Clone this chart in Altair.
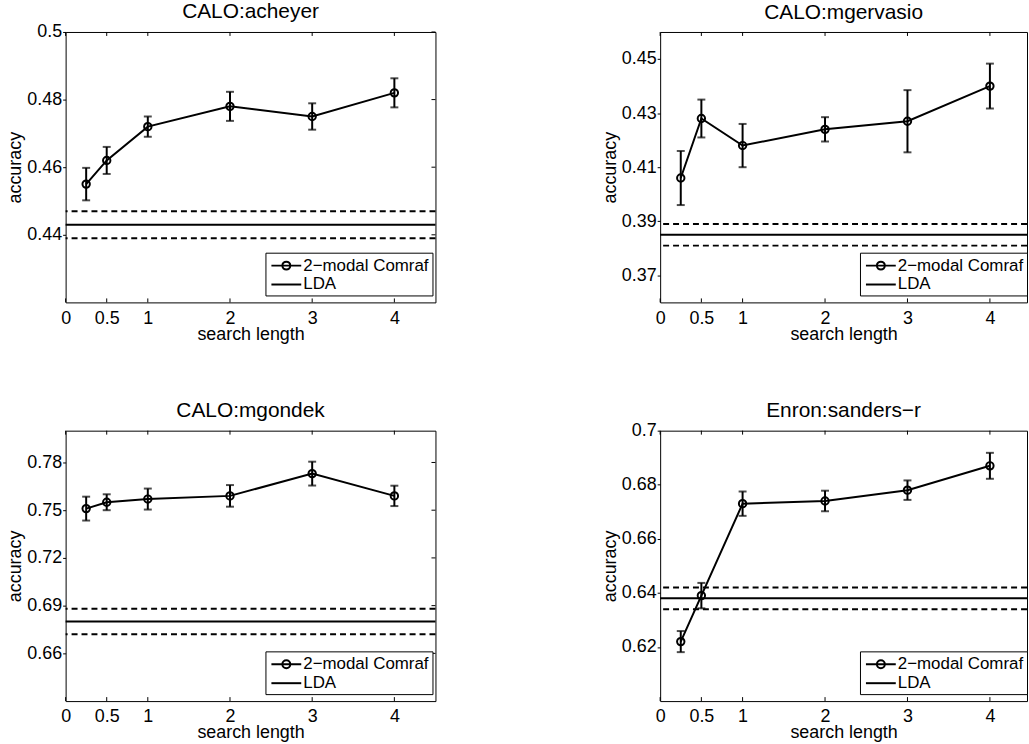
import altair as alt
import pandas as pd

FONT = "Liberation Sans"

# shared x positions / ticks
X_VALUES = [0.25, 0.5, 1, 2, 3, 4]
X_TICKS = [0, 0.5, 1, 2, 3, 4]
SERIES = ["2\u2212modal Comraf", "LDA"]

# panel 1
ACHEYER_TITLE = "CALO:acheyer"
ACHEYER_MEAN = [0.455, 0.462, 0.472, 0.478, 0.475, 0.482]
ACHEYER_ERR = [0.0048, 0.0040, 0.0030, 0.0043, 0.0039, 0.0043]
ACHEYER_LDA = 0.443
ACHEYER_LDA_STD = 0.004
ACHEYER_YDOMAIN = [0.42, 0.50]
ACHEYER_YTICKS = [0.44, 0.46, 0.48, 0.50]

# panel 2
MGERVASIO_TITLE = "CALO:mgervasio"
MGERVASIO_MEAN = [0.406, 0.428, 0.418, 0.424, 0.427, 0.440]
MGERVASIO_ERR = [0.0100, 0.0070, 0.0080, 0.0045, 0.0115, 0.0083]
MGERVASIO_LDA = 0.385
MGERVASIO_LDA_STD = 0.004
MGERVASIO_YDOMAIN = [0.36, 0.46]
MGERVASIO_YTICKS = [0.37, 0.39, 0.41, 0.43, 0.45]

# panel 3
MGONDEK_TITLE = "CALO:mgondek"
MGONDEK_MEAN = [0.751, 0.755, 0.757, 0.759, 0.773, 0.759]
MGONDEK_ERR = [0.0075, 0.0050, 0.0066, 0.0068, 0.0075, 0.0064]
MGONDEK_LDA = 0.680
MGONDEK_LDA_STD = 0.008
MGONDEK_YDOMAIN = [0.63, 0.80]
MGONDEK_YTICKS = [0.66, 0.69, 0.72, 0.75, 0.78]

# panel 4
SANDERS_TITLE = "Enron:sanders\u2212r"
SANDERS_MEAN = [0.622, 0.639, 0.673, 0.674, 0.678, 0.687]
SANDERS_ERR = [0.0039, 0.0047, 0.0045, 0.0038, 0.0036, 0.0048]
SANDERS_LDA = 0.638
SANDERS_LDA_STD = 0.004
SANDERS_YDOMAIN = [0.60, 0.70]
SANDERS_YTICKS = [0.62, 0.64, 0.66, 0.68, 0.70]

PATH_COMRAF = "M-1.667,0H1.667M0.444,0A0.444,0.444,0,1,1,-0.444,0A0.444,0.444,0,1,1,0.444,0"
PATH_LDA = "M-1.667,0H1.667"

PLOT_H = 272


def panel(title, mean, err, lda, lda_std, ydomain, yticks, width, xmax, right_ticks, legend_x):
    lo = [m - e for m, e in zip(mean, err)]
    hi = [m + e for m, e in zip(mean, err)]
    pts = pd.DataFrame({"x": X_VALUES, "y": mean, "lo": lo, "hi": hi})
    caps = pd.DataFrame({"x": X_VALUES + X_VALUES, "y": lo + hi})
    lda_mid = pd.DataFrame({"y": [lda]})
    lda_band = pd.DataFrame({"y": [lda - lda_std, lda + lda_std]})
    xt = pd.DataFrame({"x": X_TICKS})
    yt = pd.DataFrame({"y": yticks})
    leg = pd.DataFrame({"series": SERIES})

    xscale = alt.Scale(domain=[0, xmax], nice=False, zero=False)
    yscale = alt.Scale(domain=ydomain, nice=False, zero=False)
    xaxis = alt.Axis(values=X_TICKS, format="~g", title="search length",
                     ticks=False, tickSize=0, labelPadding=7, labelFlush=False,
                     titlePadding=-2)
    yaxis = alt.Axis(values=yticks, format=".2~f", title="accuracy",
                     ticks=True, tickSize=3, tickColor="black", tickWidth=1,
                     labelPadding=1, titlePadding=2, labelFlush=False)

    def X(f):
        return alt.X(f, type="quantitative", scale=xscale, axis=xaxis)

    def Y(f):
        return alt.Y(f, type="quantitative", scale=yscale, axis=yaxis)

    lda_line = alt.Chart(lda_mid).mark_rule(color="black", strokeWidth=2).encode(y=Y("y"))
    lda_dash = alt.Chart(lda_band).mark_rule(color="black", strokeWidth=2, strokeDash=[6, 4]).encode(y=Y("y"))
    bars = alt.Chart(pts).mark_rule(color="black", strokeWidth=2).encode(x=X("x"), y=Y("lo"), y2="hi")
    capm = alt.Chart(caps).mark_tick(color="black", orient="horizontal", size=8, thickness=2).encode(x=X("x"), y=Y("y"))
    line = alt.Chart(pts).mark_line(color="black", strokeWidth=2).encode(x=X("x"), y=Y("y"))
    points = alt.Chart(pts).mark_point(shape="circle", size=55, filled=False, color="black",
                                       strokeWidth=2, opacity=1).encode(x=X("x"), y=Y("y"))
    bt = alt.Chart(xt).mark_rule(color="black", strokeWidth=1).encode(
        x=X("x"), y=alt.value(PLOT_H), y2=alt.value(PLOT_H - 4))
    tt = alt.Chart(xt).mark_rule(color="black", strokeWidth=1).encode(
        x=X("x"), y=alt.value(0), y2=alt.value(4))
    legend = alt.Chart(leg).mark_point(filled=False, opacity=0).encode(
        shape=alt.Shape("series:N",
                        scale=alt.Scale(domain=SERIES, range=[PATH_COMRAF, PATH_LDA]),
                        legend=alt.Legend(title=None, orient="none", legendX=legend_x, legendY=222,
                                          fillColor="white", strokeColor="black",
                                          padding=3, cornerRadius=0,
                                          labelFont=FONT, labelFontSize=17, labelColor="black",
                                          labelOffset=7, labelLimit=400,
                                          symbolSize=324, symbolOffset=8, symbolStrokeWidth=2,
                                          symbolStrokeColor="black", symbolFillColor="transparent",
                                          symbolOpacity=1, rowPadding=1)))
    layers = [lda_dash, lda_line, bars, capm, line, points, bt, tt]
    if right_ticks:
        rt = alt.Chart(yt).mark_rule(color="black", strokeWidth=1).encode(
            y=Y("y"), x=alt.value(width), x2=alt.value(width - 4))
        layers.append(rt)
    layers.append(legend)
    top_label = abs(yticks[-1] - ydomain[1]) < 1e-9
    return alt.layer(*layers).properties(
        width=width, height=PLOT_H,
        title=alt.TitleParams(text=title, font=FONT, fontSize=21, fontWeight="normal",
                              color="black", anchor="middle",
                              offset=1 if top_label else 9))


p1 = panel(ACHEYER_TITLE, ACHEYER_MEAN, ACHEYER_ERR, ACHEYER_LDA, ACHEYER_LDA_STD,
           ACHEYER_YDOMAIN, ACHEYER_YTICKS, 372, 4.5, True, 201)
p2 = panel(MGERVASIO_TITLE, MGERVASIO_MEAN, MGERVASIO_ERR, MGERVASIO_LDA, MGERVASIO_LDA_STD,
           MGERVASIO_YDOMAIN, MGERVASIO_YTICKS, 369, 4.45, False, 201)
p3 = panel(MGONDEK_TITLE, MGONDEK_MEAN, MGONDEK_ERR, MGONDEK_LDA, MGONDEK_LDA_STD,
           MGONDEK_YDOMAIN, MGONDEK_YTICKS, 372, 4.5, True, 201)
p4 = panel(SANDERS_TITLE, SANDERS_MEAN, SANDERS_ERR, SANDERS_LDA, SANDERS_LDA_STD,
           SANDERS_YDOMAIN, SANDERS_YTICKS, 369, 4.45, False, 201)

top = alt.hconcat(p1, p2, spacing=164).resolve_scale(shape="independent").resolve_legend(shape="independent")
bottom = alt.hconcat(p3, p4, spacing=164).resolve_scale(shape="independent").resolve_legend(shape="independent")

chart = alt.vconcat(top, bottom, spacing=55).resolve_scale(shape="independent").resolve_legend(
    shape="independent").properties(
    padding={"left": 6, "top": -2, "right": 0, "bottom": 0},
    background="white",
).configure_view(stroke="black", strokeWidth=1).configure_axis(
    labelFont=FONT, labelFontSize=18, labelColor="black",
    titleFont=FONT, titleFontSize=18, titleFontWeight="normal", titleColor="black",
    grid=False, domain=False,
)

chart.save("out.html", embed_options={"renderer": "svg", "actions": False})
